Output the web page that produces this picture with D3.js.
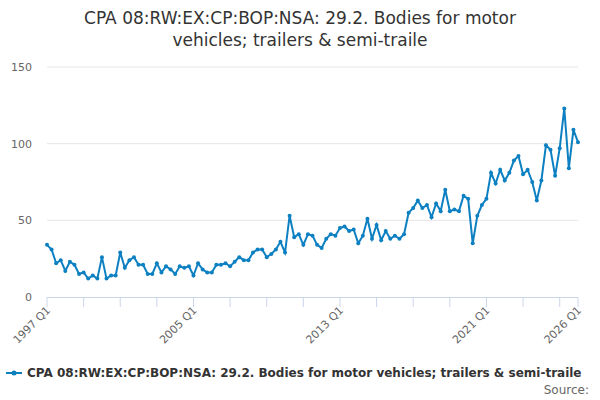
<!DOCTYPE html>
<html><head><meta charset="utf-8">
<script src="https://cdn.jsdelivr.net/npm/d3@7"></script>
<style>body{margin:0;background:#fff;font-family:"DejaVu Sans",sans-serif;}</style>
</head><body><div id="chart"></div>
<script>
const seriesName = "CPA 08:RW:EX:CP:BOP:NSA: 29.2. Bodies for motor vehicles; trailers & semi-traile";
const values = [34,31,22,24,17,23,21,15,16,12,14,12,26,12,14,14,29,19,24,26,21,21,15,15,22,16,20,18,15,20,19,20,
  14,22,18,16,16,21,21,22,20,23,26,24,24,29,31,31,26,28,31,36,29,53,39,41,34,41,40,34,32,38,41,40,45,
  46,43,44,35,40,51,38,47,37,43,38,40,38,41,55,58,63,58,60,52,61,56,70,56,57,56,66,64,35,53,60,64,
  81,74,83,76,81,89,92,80,83,75,63,76,99,96,79,97,123,84,109,101];
const tickLabels = ["1997 Q1","2005 Q1","2013 Q1","2021 Q1","2026 Q1"];
const tickIdx = [0,32,64,96,116];

const width = 600, height = 400;
const marginLeft = 47, marginRight = 22, marginTop = 67, plotBottom = 297;

const x = d3.scaleLinear().domain([0, 116]).range([marginLeft, width - marginRight]);
const y = d3.scaleLinear().domain([0, 150]).range([plotBottom, marginTop]);

const svg = d3.select("#chart").append("svg").attr("width", width).attr("height", height);

svg.append("text").attr("x", 300).attr("y", 24).attr("text-anchor", "middle")
  .attr("font-size", 17).attr("fill", "#333").text("CPA 08:RW:EX:CP:BOP:NSA: 29.2. Bodies for motor");
svg.append("text").attr("x", 300).attr("y", 46).attr("text-anchor", "middle")
  .attr("font-size", 17).attr("fill", "#333").text("vehicles; trailers & semi-traile");

// gridlines
svg.append("g").selectAll("line").data([50, 100, 150]).join("line")
  .attr("x1", marginLeft).attr("x2", width - marginRight)
  .attr("y1", d => y(d)).attr("y2", d => y(d)).attr("stroke", "#e6e6e6");
svg.append("g").selectAll("text").data([0, 50, 100, 150]).join("text")
  .attr("x", 32).attr("y", d => y(d) + 4).attr("text-anchor", "end")
  .attr("font-size", 11).attr("fill", "#666").text(d => d);

// x axis
const ax = svg.append("g");
ax.append("line").attr("x1", marginLeft).attr("x2", width - marginRight)
  .attr("y1", plotBottom + 0.5).attr("y2", plotBottom + 0.5).attr("stroke", "#ccd6eb");
ax.selectAll(".tk").data(d3.range(0, 117, 8).concat([116])).join("line")
  .attr("x1", d => x(d)).attr("x2", d => x(d))
  .attr("y1", plotBottom).attr("y2", plotBottom + 10).attr("stroke", "#ccd6eb");
ax.selectAll("text").data(tickIdx).join("text")
  .attr("transform", d => `translate(${x(d) + 4},${plotBottom + 14}) rotate(-45)`)
  .attr("text-anchor", "end").attr("font-size", 11).attr("fill", "#666")
  .text((d, i) => tickLabels[i]);

const line = d3.line().x((d, i) => x(i)).y(d => y(d));
svg.append("path").datum(values).attr("fill", "none").attr("stroke", "#0d80c2")
  .attr("stroke-width", 2).attr("d", line);
svg.append("g").selectAll("circle").data(values).join("circle")
  .attr("cx", (d, i) => x(i)).attr("cy", d => y(d)).attr("r", 2).attr("fill", "#0d80c2");

// legend
svg.append("line").attr("x1", 6).attr("x2", 22).attr("y1", 373).attr("y2", 373)
  .attr("stroke", "#0d80c2").attr("stroke-width", 2);
svg.append("circle").attr("cx", 14).attr("cy", 373).attr("r", 2.5).attr("fill", "#0d80c2");
svg.append("text").attr("x", 27).attr("y", 377).attr("font-size", 12).attr("font-weight", "bold")
  .attr("fill", "#333").text(seriesName);
svg.append("text").attr("x", 589).attr("y", 394).attr("text-anchor", "end")
  .attr("font-size", 12).attr("fill", "#666").text("Source:");
</script></body></html>
